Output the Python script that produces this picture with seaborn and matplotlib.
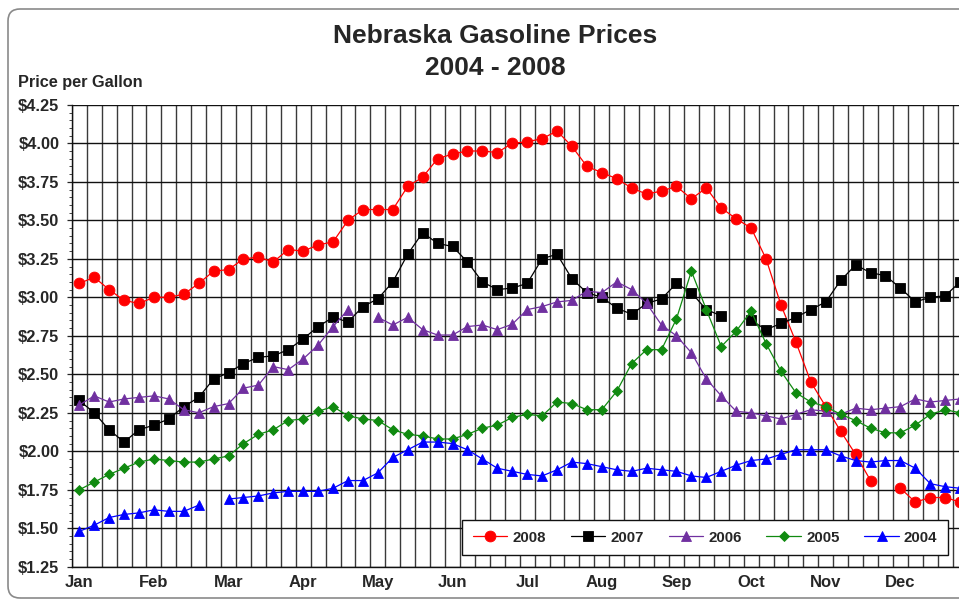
import numpy as np
import pandas as pd
import matplotlib
matplotlib.use("Agg")
import matplotlib.pyplot as plt
from matplotlib.patches import FancyBboxPatch
from matplotlib.ticker import MultipleLocator, FixedLocator
import seaborn as sns

nan = np.nan

years = ["2008", "2007", "2006", "2005", "2004"]

prices_2008 = [3.09, 3.13, 3.05, 2.98, 2.96, 3.00, 3.00, 3.02, 3.09, 3.17,
               3.18, 3.25, 3.26, 3.23, 3.31, 3.30, 3.34, 3.36, 3.50, 3.57,
               3.57, 3.57, 3.72, 3.78, 3.90, 3.93, 3.95, 3.95, 3.94, 4.00,
               4.01, 4.03, 4.08, 3.98, 3.85, 3.81, 3.77, 3.71, 3.67, 3.69,
               3.72, 3.64, 3.71, 3.58, 3.51, 3.45, 3.25, 2.95, 2.71, 2.45,
               2.29, 2.13, 1.98, 1.81, nan, 1.76, 1.67, 1.70, 1.70, 1.67]

prices_2007 = [2.33, 2.25, 2.14, 2.06, 2.14, 2.17, 2.21, 2.29, 2.35, 2.47,
               2.51, 2.57, 2.61, 2.62, 2.66, 2.73, 2.81, 2.87, 2.84, 2.94,
               2.99, 3.10, 3.28, 3.42, 3.35, 3.33, 3.23, 3.10, 3.05, 3.06,
               3.09, 3.25, 3.28, 3.12, 3.03, 3.00, 2.93, 2.89, 2.96, 2.99,
               3.09, 3.03, 2.92, 2.88, nan, 2.85, 2.79, 2.83, 2.87, 2.92,
               2.97, 3.11, 3.21, 3.16, 3.14, 3.06, 2.97, 3.00, 3.01, 3.10]

prices_2006 = [2.30, 2.36, 2.32, 2.34, 2.35, 2.36, 2.34, 2.27, 2.25, 2.29,
               2.31, 2.41, 2.43, 2.55, 2.53, 2.60, 2.69, 2.81, 2.92, nan,
               2.87, 2.82, 2.87, 2.79, 2.755, 2.755, 2.81, 2.82, 2.79, 2.825,
               2.92, 2.94, 2.97, 2.98, 3.04, 3.03, 3.10, 3.05, 2.96, 2.82,
               2.75, 2.64, 2.47, 2.36, 2.26, 2.25, 2.23, 2.21, 2.24, 2.27,
               2.26, 2.24, 2.28, 2.27, 2.28, 2.29, 2.34, 2.32, 2.33, 2.34]

prices_2005 = [1.75, 1.80, 1.85, 1.89, 1.93, 1.95, 1.94, 1.93, 1.93, 1.95,
               1.97, 2.05, 2.11, 2.14, 2.20, 2.21, 2.26, 2.29, 2.23, 2.21,
               2.20, 2.14, 2.11, 2.10, 2.08, 2.08, 2.11, 2.15, 2.17, 2.22,
               2.24, 2.23, 2.32, 2.31, 2.27, 2.27, 2.39, 2.57, 2.66, 2.66,
               2.86, 3.17, 2.92, 2.68, 2.78, 2.91, 2.70, 2.52, 2.38, 2.32,
               2.29, 2.24, 2.20, 2.15, 2.12, 2.12, 2.17, 2.24, 2.27, 2.25]

prices_2004 = [1.48, 1.52, 1.57, 1.59, 1.60, 1.62, 1.61, 1.61, 1.65, nan,
               1.69, 1.70, 1.71, 1.73, 1.74, 1.74, 1.74, 1.76, 1.81, 1.81,
               1.86, 1.96, 2.01, 2.06, 2.06, 2.05, 2.01, 1.95, 1.89, 1.87,
               1.85, 1.84, 1.88, 1.93, 1.92, 1.90, 1.88, 1.87, 1.89, 1.88,
               1.87, 1.84, 1.83, 1.87, 1.91, 1.94, 1.95, 1.98, 2.01, 2.01,
               2.01, 1.97, 1.94, 1.93, 1.94, 1.94, 1.89, 1.79, 1.77, 1.76]

month_labels = ["Jan", "Feb", "Mar", "Apr", "May", "Jun",
                "Jul", "Aug", "Sep", "Oct", "Nov", "Dec"]
y_ticks = [1.25, 1.50, 1.75, 2.00, 2.25, 2.50, 2.75, 3.00, 3.25, 3.50, 3.75, 4.00, 4.25]

series = {"2008": prices_2008, "2007": prices_2007, "2006": prices_2006,
          "2005": prices_2005, "2004": prices_2004}
n_weeks = len(prices_2008)

rows = []
for yr, vals in series.items():
    seg = 0
    for i, v in enumerate(vals):
        if np.isnan(v):
            seg += 1
            continue
        rows.append({"week": i, "price": v, "year": yr, "segment": seg})
df = pd.DataFrame(rows)

styles = {
    "2008": dict(color="#ff0000", marker="o", markersize=7.8),
    "2007": dict(color="#000000", marker="s", markersize=6.8),
    "2006": dict(color="#7030a0", marker="^", markersize=7.5),
    "2005": dict(color="#108a10", marker="D", markersize=5.2),
    "2004": dict(color="#0000ff", marker="^", markersize=7.5),
}

sns.set_style("white")
plt.rcParams["font.family"] = ["Liberation Sans", "DejaVu Sans"]

W, H = 959, 602
fig = plt.figure(figsize=(W / 100, H / 100), dpi=100)
ax_left, ax_right, ax_top, ax_bottom = 71.8, 967.6, 104.8, 566.8
ax = fig.add_axes([ax_left / W, 1 - ax_bottom / H, (ax_right - ax_left) / W,
                   (ax_bottom - ax_top) / H])

handles = []
for yr in years:
    st = styles[yr]
    sub = df[df["year"] == yr]
    n_before = len(ax.lines)
    sns.lineplot(data=sub, x="week", y="price", units="segment", estimator=None,
                 sort=False, color=st["color"], marker=st["marker"],
                 markersize=st["markersize"], markeredgecolor=st["color"],
                 markeredgewidth=0.6, linewidth=0.9, legend=False, ax=ax, zorder=3)
    handles.append(ax.lines[n_before])

ax.set_xlim(-0.5, n_weeks - 0.5)
ax.set_ylim(1.25, 4.25)
ax.set_xlabel("")
ax.set_ylabel("")

ax.xaxis.set_major_locator(FixedLocator(list(range(0, 5 * len(month_labels), 5))))
ax.set_xticklabels(month_labels)
ax.xaxis.set_minor_locator(FixedLocator([i - 0.5 for i in range(n_weeks + 1)]))
ax.set_yticks(y_ticks)
ax.set_yticklabels([f"${v:.2f}" for v in y_ticks])
ax.yaxis.set_minor_locator(MultipleLocator(0.05))

ax.grid(False)
ax.grid(True, which="minor", axis="x", color="#3a3a3a", linewidth=1.0)
ax.grid(True, which="major", axis="y", color="#111111", linewidth=1.0)
ax.set_axisbelow(True)

ax.tick_params(axis="x", which="both", length=0, pad=6, labelsize=12)
ax.tick_params(axis="y", which="major", length=3.5, width=0.9, pad=5.5, labelsize=11.8,
               direction="out", left=True)
ax.tick_params(axis="y", which="minor", length=2.2, width=0.6, direction="out", left=True)
for lab in ax.get_xticklabels() + ax.get_yticklabels():
    lab.set_fontweight("bold")

for s in ["top", "right"]:
    ax.spines[s].set_visible(False)
ax.spines["left"].set_color("#111111")
ax.spines["left"].set_linewidth(1.0)
ax.spines["bottom"].set_color("#111111")
ax.spines["bottom"].set_linewidth(1.0)

leg = ax.legend(handles, years, ncol=5, loc="lower right",
                bbox_to_anchor=((948 - ax_left) / (ax_right - ax_left),
                                (ax_bottom - 555) / (ax_bottom - ax_top)),
                borderaxespad=0, frameon=True, fancybox=False, framealpha=1,
                edgecolor="#111111", handlelength=2.3, handletextpad=0.35,
                columnspacing=1.65, borderpad=0.7,
                prop={"weight": "bold", "size": 10.8})
leg.get_frame().set_linewidth(1.0)
leg.set_zorder(5)

fig.text(495 / W, 1 - 36 / H, "Nebraska Gasoline Prices", ha="center", va="center",
         fontsize=19, fontweight="bold")
fig.text(495 / W, 1 - 68 / H, "2004 - 2008", ha="center", va="center",
         fontsize=19, fontweight="bold")
fig.text(18 / W, 1 - 83 / H, "Price per Gallon", ha="left", va="center",
         fontsize=11.7, fontweight="bold")

frame = FancyBboxPatch((8, 4), 1000, 589, boxstyle="round,pad=0,rounding_size=12",
                       transform=None, fill=False, edgecolor="#8a8a8a", linewidth=1.2)
fig.patches.append(frame)

fig.savefig("out.png", dpi=100)
